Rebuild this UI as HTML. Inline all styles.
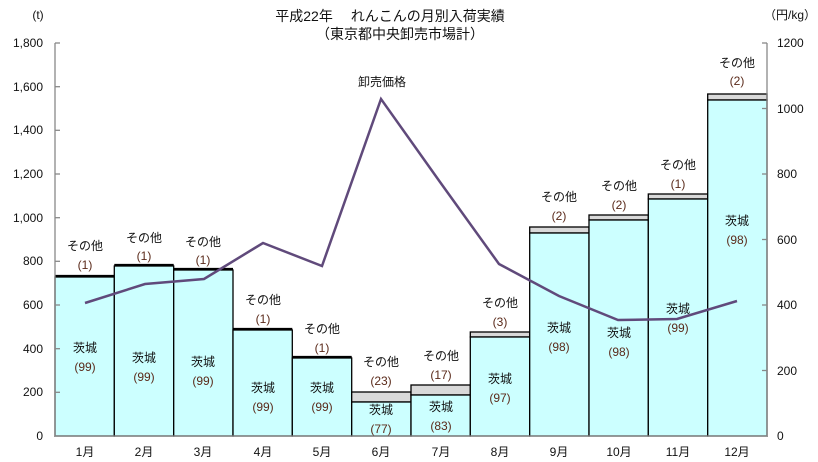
<!DOCTYPE html>
<html><head><meta charset="utf-8"><style>
body{margin:0;background:#fff;}
svg{display:block;font-family:"Liberation Sans","Noto Sans CJK JP",sans-serif;}
</style></head><body>
<svg width="818" height="462" xmlns="http://www.w3.org/2000/svg">
<rect width="818" height="462" fill="#fff"/>
<text x="390" y="21" font-size="14" text-anchor="middle" fill="#111">平成22年　 れんこんの月別入荷実績</text>
<text x="400" y="39" font-size="14" text-anchor="middle" fill="#111">（東京都中央卸売市場計）</text>
<text x="38" y="19" font-size="12" text-anchor="middle" fill="#111">(t)</text>
<text x="790" y="19" font-size="12" text-anchor="middle" fill="#111">（円/kg）</text>
<g stroke="#000" stroke-width="1.3">
<rect x="55" y="277" width="59.3" height="159" fill="#CCFFFF"/><line x1="55" y1="276" x2="114.3" y2="276" stroke-width="2.2"/>
<rect x="114.3" y="266" width="59.4" height="170" fill="#CCFFFF"/><line x1="114.3" y1="265" x2="173.7" y2="265" stroke-width="2.2"/>
<rect x="173.7" y="270" width="59.3" height="166" fill="#CCFFFF"/><line x1="173.7" y1="269" x2="233" y2="269" stroke-width="2.2"/>
<rect x="233" y="330" width="59.3" height="106" fill="#CCFFFF"/><line x1="233" y1="329" x2="292.3" y2="329" stroke-width="2.2"/>
<rect x="292.3" y="358" width="59.4" height="78" fill="#CCFFFF"/><line x1="292.3" y1="357" x2="351.7" y2="357" stroke-width="2.2"/>
<rect x="351.7" y="392" width="59.3" height="10" fill="#D9D9D9"/><rect x="351.7" y="402" width="59.3" height="34" fill="#CCFFFF"/>
<rect x="411" y="385" width="59.3" height="10" fill="#D9D9D9"/><rect x="411" y="395" width="59.3" height="41" fill="#CCFFFF"/>
<rect x="470.3" y="332" width="59.4" height="5" fill="#D9D9D9"/><rect x="470.3" y="337" width="59.4" height="99" fill="#CCFFFF"/>
<rect x="529.7" y="227" width="59.3" height="6" fill="#D9D9D9"/><rect x="529.7" y="233" width="59.3" height="203" fill="#CCFFFF"/>
<rect x="589" y="215" width="59.3" height="5" fill="#D9D9D9"/><rect x="589" y="220" width="59.3" height="216" fill="#CCFFFF"/>
<rect x="648.3" y="194" width="59.4" height="5" fill="#D9D9D9"/><rect x="648.3" y="199" width="59.4" height="237" fill="#CCFFFF"/>
<rect x="707.7" y="94" width="59.3" height="6" fill="#D9D9D9"/><rect x="707.7" y="100" width="59.3" height="336" fill="#CCFFFF"/>
</g>
<g stroke="#888" stroke-width="1.3">
<line x1="55" y1="43" x2="55" y2="436"/>
<line x1="767" y1="43" x2="767" y2="436"/>
<line x1="55" y1="436" x2="767" y2="436"/>
<line x1="55" y1="43" x2="60" y2="43"/><line x1="55" y1="86.7" x2="60" y2="86.7"/><line x1="55" y1="130.3" x2="60" y2="130.3"/><line x1="55" y1="174" x2="60" y2="174"/><line x1="55" y1="217.7" x2="60" y2="217.7"/><line x1="55" y1="261.3" x2="60" y2="261.3"/><line x1="55" y1="305" x2="60" y2="305"/><line x1="55" y1="348.7" x2="60" y2="348.7"/><line x1="55" y1="392.3" x2="60" y2="392.3"/>
<line x1="762" y1="43" x2="767" y2="43"/><line x1="762" y1="108.5" x2="767" y2="108.5"/><line x1="762" y1="174" x2="767" y2="174"/><line x1="762" y1="239.5" x2="767" y2="239.5"/><line x1="762" y1="305" x2="767" y2="305"/><line x1="762" y1="370.5" x2="767" y2="370.5"/>
</g>
<g font-size="12" fill="#111" text-anchor="end">
<text x="43" y="47">1,800</text><text x="43" y="91">1,600</text><text x="43" y="134">1,400</text><text x="43" y="178">1,200</text><text x="43" y="222">1,000</text><text x="43" y="265">800</text><text x="43" y="309">600</text><text x="43" y="353">400</text><text x="43" y="396">200</text><text x="43" y="440">0</text>
</g>
<g font-size="12" fill="#111" text-anchor="start">
<text x="777" y="47">1200</text><text x="777" y="113">1000</text><text x="777" y="178">800</text><text x="777" y="244">600</text><text x="777" y="309">400</text><text x="777" y="375">200</text><text x="777" y="440">0</text>
</g>
<g font-size="12" fill="#111" text-anchor="middle">
<text x="85" y="456">1月</text><text x="144" y="456">2月</text><text x="203" y="456">3月</text><text x="263" y="456">4月</text><text x="322" y="456">5月</text><text x="381" y="456">6月</text><text x="441" y="456">7月</text><text x="500" y="456">8月</text><text x="559" y="456">9月</text><text x="619" y="456">10月</text><text x="678" y="456">11月</text><text x="737" y="456">12月</text>
</g>
<polyline fill="none" stroke="#604A7B" stroke-width="2.5" points="85,303 145,284 204,279 263,243 322,266 381,99 440,182 499,264 559,296 618,320 677,319 737,301"/>
<text x="382" y="86" font-size="12" text-anchor="middle" fill="#111">卸売価格</text>
<g font-size="12" text-anchor="middle" fill="#111">
<text x="85" y="250">その他</text><text x="85" y="269" fill="#5a2a1a">(1)</text>
<text x="144" y="242">その他</text><text x="144" y="260" fill="#5a2a1a">(1)</text>
<text x="203" y="246">その他</text><text x="203" y="264" fill="#5a2a1a">(1)</text>
<text x="263" y="304">その他</text><text x="263" y="323" fill="#5a2a1a">(1)</text>
<text x="322" y="333">その他</text><text x="322" y="352" fill="#5a2a1a">(1)</text>
<text x="381" y="366">その他</text><text x="381" y="385" fill="#5a2a1a">(23)</text>
<text x="441" y="360">その他</text><text x="441" y="379" fill="#5a2a1a">(17)</text>
<text x="500" y="307">その他</text><text x="500" y="326" fill="#5a2a1a">(3)</text>
<text x="559" y="201">その他</text><text x="559" y="220" fill="#5a2a1a">(2)</text>
<text x="619" y="190">その他</text><text x="619" y="209" fill="#5a2a1a">(2)</text>
<text x="678" y="169">その他</text><text x="678" y="188" fill="#5a2a1a">(1)</text>
<text x="737" y="67">その他</text><text x="737" y="85" fill="#5a2a1a">(2)</text>
<text x="85" y="352">茨城</text><text x="85" y="371" fill="#5a2a1a">(99)</text>
<text x="144" y="362">茨城</text><text x="144" y="381" fill="#5a2a1a">(99)</text>
<text x="203" y="366">茨城</text><text x="203" y="385" fill="#5a2a1a">(99)</text>
<text x="263" y="392">茨城</text><text x="263" y="411" fill="#5a2a1a">(99)</text>
<text x="322" y="392">茨城</text><text x="322" y="411" fill="#5a2a1a">(99)</text>
<text x="381" y="414">茨城</text><text x="381" y="433" fill="#5a2a1a">(77)</text>
<text x="441" y="411">茨城</text><text x="441" y="430" fill="#5a2a1a">(83)</text>
<text x="500" y="383">茨城</text><text x="500" y="402" fill="#5a2a1a">(97)</text>
<text x="559" y="332">茨城</text><text x="559" y="351" fill="#5a2a1a">(98)</text>
<text x="619" y="337">茨城</text><text x="619" y="356" fill="#5a2a1a">(98)</text>
<text x="678" y="313">茨城</text><text x="678" y="332" fill="#5a2a1a">(99)</text>
<text x="737" y="225">茨城</text><text x="737" y="244" fill="#5a2a1a">(98)</text>
</g>
</svg>
</body></html>
